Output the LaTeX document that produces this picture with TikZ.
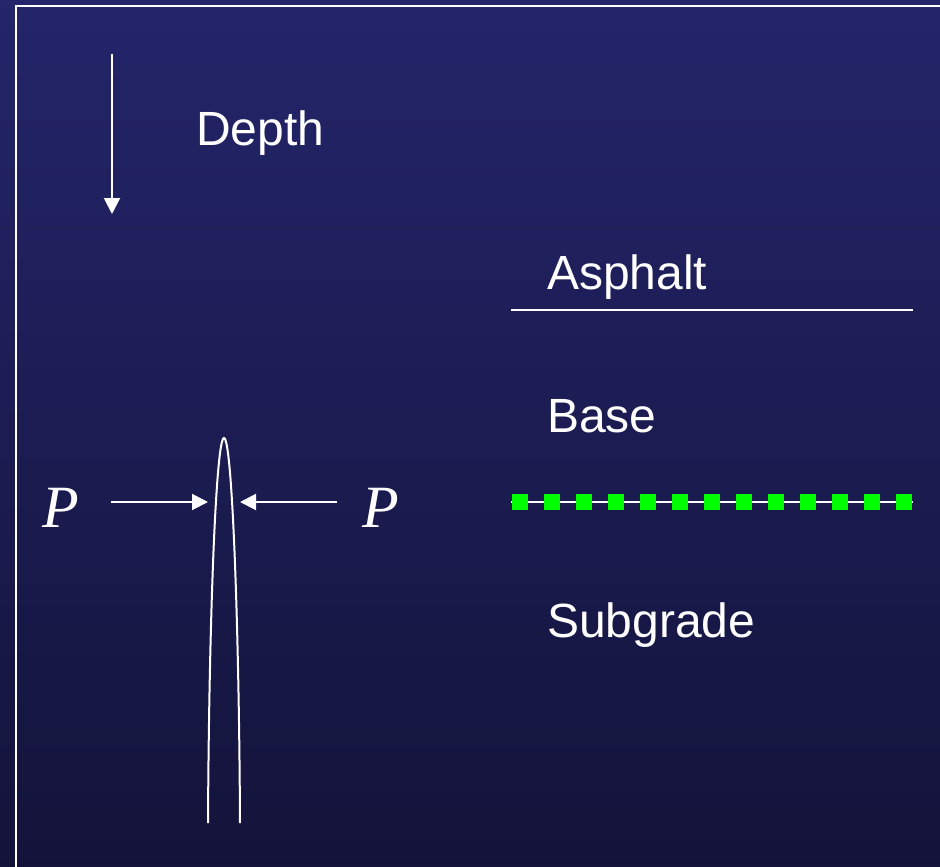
\documentclass[tikz,border=0pt]{standalone}
\usepackage{fontspec}
\setmainfont{Liberation Sans}
\newfontfamily\timesfont{Liberation Serif}
\usetikzlibrary{arrows.meta}
\definecolor{bgtop}{RGB}{36,37,106}
\definecolor{bgbot}{RGB}{19,19,58}
\definecolor{sqgreen}{RGB}{0,255,0}
\tikzset{
  lbl/.style={text=white, inner sep=0pt, anchor=base west, font=\fontsize{48}{50}\selectfont},
  plbl/.style={text=white, inner sep=0pt, anchor=base west, font=\timesfont\itshape\fontsize{60}{62}\selectfont},
  wline/.style={draw=white, line width=2pt},
  warrow/.style={draw=white, line width=2pt, -{Triangle[length=16pt,width=16pt]}},
  sq/.style={fill=sqgreen, draw=none}
}
\begin{document}
\begin{tikzpicture}[x=1pt,y=-1pt]
\useasboundingbox (0,0) rectangle (940,867);
\shade[top color=bgtop, bottom color=bgbot] (0,0) rectangle (940,867);
\begin{scope}
\clip (0,0) rectangle (940,867);
\draw[wline] (16,6) rectangle (960,890);
\end{scope}
% depth arrow
\coordinate (d1) at (112,54);
\coordinate (d2) at (112,214);
\draw[warrow] (d1) -- (d2);
\node[lbl] (depth) at (196,145) {Depth};
% layers
\node[lbl] (asph) at (547,289) {Asphalt};
\coordinate (a1) at (511,310);
\coordinate (a2) at (913,310);
\draw[wline] (a1) -- (a2);
\node[lbl] (base) at (547,432) {Base};
\coordinate (b1) at (511,502);
\coordinate (b2) at (913,502);
\draw[wline] (b1) -- (b2);
\foreach \k in {0,...,12} {
  \fill[sqgreen] ({512+32*\k},494) rectangle ({528+32*\k},510);
}
\node[lbl] (sub) at (547,637) {Subgrade};
% P labels
\node[plbl] (pl) at (42,527) {P};
\node[plbl] (pr) at (362,527) {P};
\coordinate (l1) at (111,502);
\coordinate (l2) at (208,502);
\coordinate (r1) at (337,502);
\coordinate (r2) at (240,502);
\draw[warrow] (l1) -- (l2);
\draw[warrow] (r1) -- (r2);
% tube / arch
\coordinate (t1) at (208,823);
\coordinate (top) at (224,438);
\coordinate (t2) at (240,823);
\draw[draw=white, line width=2pt] (t1) .. controls (209,620) and (216,438) .. (top)
  .. controls (232,438) and (239,620) .. (t2);
\end{tikzpicture}
\end{document}
